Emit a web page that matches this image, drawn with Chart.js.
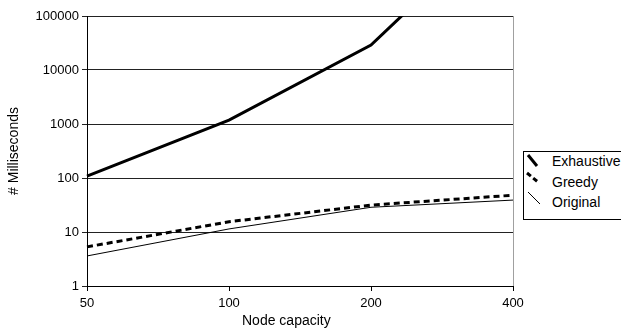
<!DOCTYPE html>
<html>
<head>
<meta charset="utf-8">
<script src="https://cdn.jsdelivr.net/npm/chart.js@4/dist/chart.umd.min.js"></script>
<style>
  html, body { margin: 0; padding: 0; background: #fff; }
  #wrap { position: relative; width: 621px; height: 330px; overflow: hidden; font-family: "Liberation Sans", Arial, sans-serif; }
  #c { position: absolute; left: 0; top: 0; }
  #xtitle { position: absolute; left: 242px; top: 312px; font-size: 14px; color: #000; white-space: nowrap; }
  #legend { position: absolute; left: 523px; top: 151px; width: 120px; height: 67px; border: 1px solid #000; background: #fff; }
  #legend svg { position: absolute; left: 0; top: 0; }
  .lt { position: absolute; left: 28px; font-size: 14px; color: #000; white-space: nowrap; line-height: 16px; }
</style>
</head>
<body>
<div id="wrap">
  <canvas id="c" width="621" height="330"></canvas>
  <div id="xtitle">Node capacity</div>
  <div id="legend"></div>
</div>
<script>
// ---- data ----
const categories = ['50', '100', '200', '400'];
const exhaustive = [108, 1180, 29000, 9000000];
const greedy = [5.3, 15.5, 31.5, 48];
const original = [3.6, 11.4, 28.7, 39];
const yTicks = [1, 10, 100, 1000, 10000, 100000];
const seriesNames = ['Exhaustive', 'Greedy', 'Original'];

Chart.defaults.font.family = '"Liberation Sans", Arial, sans-serif';
Chart.defaults.color = '#000';

new Chart(document.getElementById('c'), {
  type: 'line',
  data: {
    labels: categories,
    datasets: [
      { label: seriesNames[0], data: exhaustive, borderColor: '#000', borderWidth: 3, pointRadius: 0, tension: 0, fill: false },
      { label: seriesNames[1], data: greedy, borderColor: '#000', borderWidth: 3, borderDash: [6, 4], pointRadius: 0, tension: 0, fill: false },
      { label: seriesNames[2], data: original, borderColor: '#000', borderWidth: 1, pointRadius: 0, tension: 0, fill: false }
    ]
  },
  options: {
    responsive: false,
    animation: false,
    layout: { padding: { left: 0, top: 16, right: 108, bottom: 0 } },
    plugins: { legend: { display: false }, tooltip: { enabled: false } },
    scales: {
      x: {
        type: 'category',
        offset: false,
        grid: {
          drawOnChartArea: true,
          color: (ctx) => (ctx.index === categories.length - 1 ? '#a0a0a0' : 'rgba(0,0,0,0)'),
          tickColor: '#000',
          tickLength: 5,
          lineWidth: 1
        },
        border: { display: true, color: '#000', width: 1 },
        ticks: { font: { size: 13 }, color: '#000', padding: 5, maxRotation: 0 },
        afterFit: (scale) => { scale.height = 44; }
      },
      y: {
        type: 'logarithmic',
        min: 1,
        max: 100000,
        afterBuildTicks: (scale) => { scale.ticks = yTicks.map(v => ({ value: v })); },
        grid: { color: '#222', lineWidth: 1, tickLength: 5, drawTicks: true },
        border: { display: true, color: '#000', width: 1 },
        ticks: { font: { size: 13 }, color: '#000', padding: 3, callback: (v) => String(v) },
        title: { display: true, text: '# Milliseconds', font: { size: 14 }, color: '#000', padding: { top: 6, bottom: 0 } },
        afterFit: (scale) => { scale.width = 87; }
      }
    }
  }
});

// ---- legend (HTML) ----
const lg = document.getElementById('legend');
const ox = 524, oy = 152;
lg.innerHTML =
  '<svg width="40" height="67" xmlns="http://www.w3.org/2000/svg">' +
  '<line x1="' + (528 - ox) + '" y1="' + (155 - oy) + '" x2="' + (537 - ox) + '" y2="' + (166 - oy) + '" stroke="#000" stroke-width="3"/>' +
  '<line x1="' + (527 - ox) + '" y1="' + (173 - oy) + '" x2="' + (538 - ox) + '" y2="' + (182 - oy) + '" stroke="#000" stroke-width="3" stroke-dasharray="5,3"/>' +
  '<line x1="' + (528 - ox) + '" y1="' + (192 - oy) + '" x2="' + (540 - ox) + '" y2="' + (204 - oy) + '" stroke="#000" stroke-width="1"/>' +
  '</svg>' +
  '<div class="lt" style="top:' + (161 - oy - 8) + 'px">' + seriesNames[0] + '</div>' +
  '<div class="lt" style="top:' + (182 - oy - 8) + 'px">' + seriesNames[1] + '</div>' +
  '<div class="lt" style="top:' + (202 - oy - 8) + 'px">' + seriesNames[2] + '</div>';
</script>
</body>
</html>
